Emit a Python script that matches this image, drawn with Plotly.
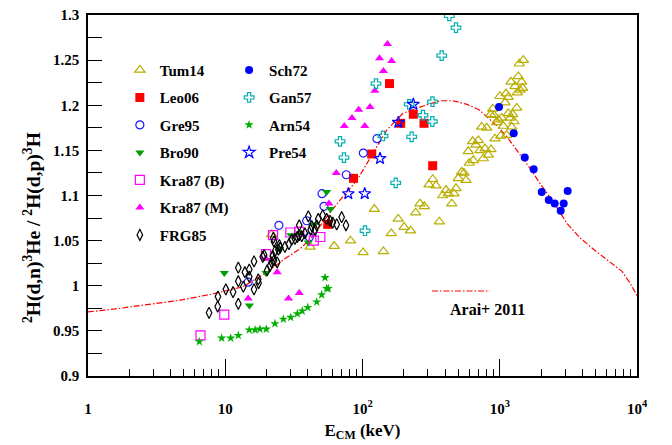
import plotly.graph_objects as go

# ---------------- data ----------------
tum14_e = [1486,1388,1208,1365,1445,1291,1469,1343,1405,1004,1111,1154,1092,889,1330,1154,1243,859,908,976,
           1033,1188,1270,950,739,804,1062,1222,1016,923,1124,635,698,671,718,781,863,590,826,759,
           642,600,528,549,499,568,480,406,384,422,464,447,325,305,343,262,282,244,122,182,
           363,201,224,162,101,142,81.8,62.2,41.5,21.8]
tum14_r = [1.250,1.246,1.226,1.232,1.226,1.221,1.219,1.214,1.217,1.210,1.213,1.209,1.203,1.196,1.197,1.191,1.190,1.190,1.189,1.184,
           1.186,1.186,1.182,1.181,1.176,1.175,1.177,1.176,1.166,1.163,1.167,1.160,1.161,1.156,1.150,1.152,1.151,1.149,1.145,1.141,
           1.139,1.136,1.126,1.125,1.119,1.117,1.108,1.106,1.100,1.102,1.102,1.091,1.118,1.112,1.111,1.091,1.088,1.081,1.085,1.074,
           1.071,1.065,1.061,1.058,1.037,1.038,1.050,1.044,1.043,1.057]

leo06_e = [55.8,86.0,116.7,157.3,189.8,234.5,280.6,324.6]
leo06_r = [1.068,1.119,1.146,1.224,1.180,1.190,1.180,1.133]

gre95_e = [14.7,24.6,39.2,41.0,50.7,52.4,76.2,101.4,127.5]
gre95_r = [1.004,1.067,1.072,1.054,1.102,1.088,1.123,1.147,1.163]

bro90_e = [9.84,15.0,19.8,24.9,30.1,35.0,40.3,44.6,58.3,54.8]
bro90_r = [1.014,0.978,1.014,1.041,1.056,1.058,1.048,1.068,1.085,1.104]

kra87b_e = [6.6,9.84,19.8,22.3,29.8,34.6,44.2,49.3]
kra87b_r = [0.945,0.968,1.035,1.056,1.059,1.060,1.050,1.054]

kra87m_e = [152,133,163,142,123,113.5,93.8,83.8,103.8,73.7,64.4,57.0,19.8,23.9,14.7,28.9,34.6]
kra87m_r = [1.268,1.252,1.249,1.238,1.216,1.198,1.195,1.186,1.177,1.177,1.125,1.091,1.030,1.015,0.986,0.986,0.992]

frg85_e = [7.62,8.81,8.85,10.1,11.4,12.45,12.45,12.45,13.54,13.9,14.96,14.96,16.2,16.2,17.4,17.5,18.75,19.2,
           20.2,21.2,21.8,22.2,22.65,23.0,23.9,24.4,25.1,22.4,22.65,24.8,27.2,29.1,30.5,32.2,33.5,34.6,36.1,38.1,
           40.3,41.9,42.7,45.1,46.4,47.6,51.3,54.8,58.0,60.7,64.9,70.5,75.8,34.6]
frg85_r = [0.970,0.977,0.988,0.996,0.993,0.980,1.005,1.020,0.999,1.015,1.018,1.010,1.027,0.996,1.007,1.003,1.032,1.034,
           1.017,1.022,1.026,1.033,1.028,1.038,1.026,1.040,1.042,1.053,1.049,1.045,1.043,1.046,1.051,1.052,1.054,1.056,1.055,1.058,
           1.077,1.062,1.066,1.062,1.067,1.074,1.078,1.074,1.072,1.070,1.068,1.076,1.067,1.067]

sch72_e = [988,1264,1521,1767,2023,2275,2513,2780,2924,3126]
sch72_r = [1.198,1.169,1.142,1.129,1.104,1.095,1.091,1.083,1.091,1.105]

gan57_e = [68.6,73.3,104.3,125.4,141.0,174.6,218.9,228.2,276,323.6,322.8,377.6,480,429]
gan57_r = [1.160,1.142,1.061,1.224,1.166,1.114,1.201,1.165,1.189,1.204,1.182,1.255,1.286,1.299]

arn54_e = [6.47,9.42,10.96,12.45,14.95,16.5,17.9,19.9,23.0,26.5,30.0,33.5,36.4,39.9,46.4,50.4,54.8,56.3,53.3]
arn54_r = [0.938,0.942,0.942,0.945,0.951,0.951,0.952,0.952,0.958,0.963,0.965,0.969,0.972,0.976,0.982,0.990,0.997,0.997,1.009]

pre54_e = [78.8,103.8,134.2,182.4,234.5]
pre54_r = [1.102,1.102,1.141,1.181,1.201]

arai_e = [1,1.52,2.69,4.68,8.14,13.5,20.1,27.2,35.1,43.6,51.6,68.6,91.2,109.6,151,197,262,367,456,577,706,822,
          971,1130,1292,1477,1718,1931,2208,2529,3092,3845,4946,6357,7777,8896,10000]
arai_r = [0.971,0.974,0.979,0.984,0.991,0.999,1.015,1.030,1.041,1.055,1.071,1.095,1.117,1.137,1.173,1.191,1.198,1.205,
          1.205,1.201,1.195,1.186,1.176,1.165,1.153,1.140,1.127,1.115,1.102,1.090,1.069,1.053,1.039,1.026,1.016,1.003,0.989]

x_tickvals = [1, 10, 100, 1000, 10000]
x_ticktext = ["1", "10", "10<sup>2</sup>", "10<sup>3</sup>", "10<sup>4</sup>"]
y_tickvals = [0.9, 0.95, 1.0, 1.05, 1.1, 1.15, 1.2, 1.25, 1.3]
y_ticktext = ["0.9", "0.95", "1", "1.05", "1.1", "1.15", "1.2", "1.25", "1.3"]

FONT = "Liberation Serif, Times New Roman, serif"
DASH = "6px,2px,1.5px,2px"

fig = go.Figure()

# Arai curve
fig.add_trace(go.Scatter(x=arai_e, y=arai_r, mode="lines", showlegend=False,
                         line=dict(color="#ff0000", width=1.2, dash=DASH)))

def add(name, xs, ys, symbol, color, size, legend, lw=1.2):
    fig.add_trace(go.Scatter(x=xs, y=ys, mode="markers", name=name, legend=legend,
                             legendgroup=name,
                             marker=dict(symbol=symbol, color=color, size=size,
                                         line=dict(color=color, width=lw))))

add("Tum14", tum14_e, tum14_r, "triangle-up-open", "#b8ae00", 9, "legend")
add("Leo06", leo06_e, leo06_r, "square", "#ff0000", 9, "legend", 0)
add("Gre95", gre95_e, gre95_r, "circle-open", "#1a1aff", 8, "legend")
add("Bro90", bro90_e, bro90_r, "triangle-down", "#00a000", 8, "legend", 0)
add("Kra87 (B)", kra87b_e, kra87b_r, "square-open", "#ff00ff", 9, "legend")
add("Kra87 (M)", kra87m_e, kra87m_r, "triangle-up", "#ff00ff", 8, "legend", 0)
add("FRG85", frg85_e, frg85_r, "diamond-tall-open", "#000000", 8, "legend")
add("Sch72", sch72_e, sch72_r, "circle", "#0000ff", 8, "legend2", 0)
add("Gan57", gan57_e, gan57_r, "cross-open", "#00b0b0", 8, "legend2")
add("Arn54", arn54_e, arn54_r, "star", "#00b000", 7, "legend2", 0)
add("Pre54", pre54_e, pre54_r, "star-open", "#0000ff", 9, "legend2")

# Arai legend key: line sample, label just below it
fig.add_shape(type="line", xref="paper", yref="paper", x0=0.6266, x1=0.7322, y0=0.2355, y1=0.2355,
              line=dict(color="#ff0000", width=1.2, dash=DASH))
fig.add_annotation(x=0.727, y=0.183, xref="paper", yref="paper", text="Arai+ 2011",
                   showarrow=False, xanchor="center", yanchor="middle",
                   font=dict(family=FONT, size=16, color="black", weight="bold"))

# y-axis title (placed slightly below centre, as in the reference)
fig.add_annotation(x=-0.1, y=0.41, xref="paper", yref="paper",
                   text="<sup>2</sup>H(d,n)<sup>3</sup>He / <sup>2</sup>H(d,p)<sup>3</sup>H",
                   textangle=-90, showarrow=False, xanchor="center", yanchor="middle",
                   font=dict(family=FONT, size=19.5, color="black", weight="bold"))

legfont = dict(family=FONT, size=15, color="black", weight="bold")
fig.update_layout(
    width=672, height=445,
    margin=dict(l=88, r=35, t=15, b=69, autoexpand=False),
    paper_bgcolor="white", plot_bgcolor="white",
    font=dict(family=FONT, size=15, color="black", weight="bold"),
    legend=dict(x=0.058, y=0.893, xanchor="left", yanchor="top", font=legfont,
                bgcolor="rgba(0,0,0,0)", traceorder="grouped", tracegroupgap=5),
    legend2=dict(x=0.257, y=0.893, xanchor="left", yanchor="top", font=legfont,
                 bgcolor="rgba(0,0,0,0)", traceorder="grouped", tracegroupgap=5),
    xaxis=dict(type="log", range=[0, 4], tickvals=x_tickvals, ticktext=x_ticktext,
               ticks="inside", ticklen=17, tickwidth=1, tickcolor="black",
               showline=True, linecolor="black", linewidth=1.5, mirror=True,
               showgrid=False, zeroline=False, ticklabelstandoff=18,
               minor=dict(tickvals=[m * 10 ** d for d in range(4) for m in range(2, 10)],
                          ticks="inside", ticklen=7, tickcolor="black", showgrid=False),
               tickfont=dict(family=FONT, size=15, weight="bold"),
               title=dict(text="E<sub>CM</sub> (keV)", standoff=8,
                          font=dict(family=FONT, size=17, weight="bold"))),
    yaxis=dict(range=[0.9, 1.3], tickvals=y_tickvals, ticktext=y_ticktext,
               ticks="inside", ticklen=14, tickwidth=1, tickcolor="black",
               showline=True, linecolor="black", linewidth=1.5, mirror=True,
               showgrid=False, zeroline=False, ticklabelstandoff=4,
               minor=dict(dtick=0.025, ticks="inside", ticklen=14, tickcolor="black", showgrid=False),
               tickfont=dict(family=FONT, size=15, weight="bold")),
)

fig.write_html("out.html", config={"displayModeBar": False},
               post_script="document.body.style.margin='0';document.body.style.overflow='hidden';")
